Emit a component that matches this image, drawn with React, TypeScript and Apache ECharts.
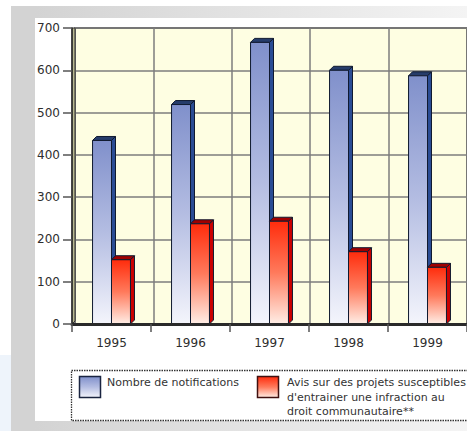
import React, { useEffect, useRef } from 'react';
import * as echarts from 'echarts';

const years = ['1995', '1996', '1997', '1998', '1999'];
const notifications = [434, 519, 666, 600, 587];
const avis = [152, 237, 243, 171, 134];
const yMin = 0;
const yMax = 700;
const yStep = 100;
const seriesNames = [
  'Nombre de notifications',
  "Avis sur des projets susceptibles\nd'entrainer une infraction au\ndroit communautaire**",
];

const FONT = 'DejaVu Sans';

function grad(stops: [number, string][], horizontal = false) {
  return new echarts.graphic.LinearGradient(0, 0, horizontal ? 1 : 0, horizontal ? 0 : 1,
    stops.map(([offset, color]) => ({ offset, color })));
}

const blueFront = () => grad([[0, '#8090cb'], [0.5, '#b4bde2'], [1, '#f4f5fc']]);
const redFront = () => grad([[0, '#ff2c0c'], [0.5, '#ff7a5c'], [1, '#ffeee6']]);

function makeRender(offsetFactor: number, front: () => any, side: string, top: string) {
  return (params: any, api: any) => {
    const idx = api.value(0);
    const v = api.value(1);
    const p = api.coord([idx, v]);
    const p0 = api.coord([idx, 0]);
    const band = api.size([1, 0])[0];
    const w = band * 0.24;
    const x = p[0] + offsetFactor * w;
    const y = p[1];
    const y0 = p0[1];
    const dx = 4;
    const dy = 4;
    const stroke = '#101a30';
    return {
      type: 'group',
      children: [
        {
          type: 'polygon',
          shape: { points: [[x + w, y], [x + w + dx, y - dy], [x + w + dx, y0 - dy], [x + w, y0]] },
          style: { fill: side, stroke, lineWidth: 1 },
        },
        {
          type: 'polygon',
          shape: { points: [[x, y], [x + dx, y - dy], [x + w + dx, y - dy], [x + w, y]] },
          style: { fill: top, stroke, lineWidth: 1 },
        },
        {
          type: 'rect',
          shape: { x, y, width: w, height: y0 - y },
          style: { fill: front(), stroke, lineWidth: 1 },
        },
      ],
    };
  };
}

export default function App() {
  const ref = useRef<HTMLDivElement>(null);
  useEffect(() => {
    if (!ref.current) return;
    const chart = echarts.init(ref.current, undefined, { renderer: 'svg' });
    const gridLine = { show: true, lineStyle: { color: '#7c7c7c', width: 1.5 } };
    const legendFont = `11px "${FONT}"`;
    chart.setOption({
      animation: false,
      backgroundColor: '#ffffff',
      grid: [
        { left: 72, top: 28, width: 396, height: 296, containLabel: false },
        {
          left: 75, top: 28, width: 396, height: 296, show: true,
          backgroundColor: '#fefee2', borderColor: '#333', borderWidth: 1.5,
        },
      ],
      xAxis: [
        {
          type: 'category', gridIndex: 0, data: years,
          axisLine: { show: true, lineStyle: { color: '#2a2a2a', width: 3 } },
          axisTick: { show: true, length: 8, lineStyle: { color: '#555', width: 1.5 } },
          axisLabel: { fontFamily: FONT, fontSize: 12, color: '#2e2e2e', margin: 13 },
          splitLine: { show: false },
          z: 5,
        },
        {
          type: 'category', gridIndex: 1, data: years,
          axisLine: { show: false }, axisTick: { show: false }, axisLabel: { show: false },
          splitLine: gridLine,
        },
      ],
      yAxis: [
        {
          type: 'value', gridIndex: 0, min: yMin, max: yMax, interval: yStep,
          axisLine: { show: true, lineStyle: { color: '#2a2a2a', width: 1.5 } },
          axisTick: { show: true, length: 9, lineStyle: { color: '#555', width: 1.5 } },
          axisLabel: { fontFamily: FONT, fontSize: 12, color: '#2e2e2e', margin: 12 },
          splitLine: { show: false },
          z: 5,
        },
        {
          type: 'value', gridIndex: 1, min: yMin, max: yMax, interval: yStep,
          axisLine: { show: false }, axisTick: { show: false }, axisLabel: { show: false },
          splitLine: gridLine,
        },
      ],
      graphic: [
        {
          type: 'rect', z: -11, silent: true,
          shape: { x: 0, y: 355, width: 11, height: 76 },
          style: { fill: '#eef4fb' },
        },
        {
          type: 'rect', z: -10, silent: true,
          shape: { x: 11, y: 6, width: 24, height: 425 },
          style: { fill: '#d3d3d3' },
        },
        {
          type: 'rect', z: -10, silent: true,
          shape: { x: 35, y: 6, width: 432, height: 12 },
          style: { fill: grad([[0, '#d3d3d3'], [1, '#f4f4f4']], true) },
        },
        {
          type: 'rect', z: -10, silent: true,
          shape: { x: 35, y: 421, width: 432, height: 10 },
          style: { fill: grad([[0, '#d3d3d3'], [1, '#f4f4f4']], true) },
        },
        {
          type: 'polygon', z: 3, silent: true,
          shape: { points: [[72, 28], [75, 28], [75, 321], [72, 324]] },
          style: { fill: '#b8b890', stroke: '#333', lineWidth: 1 },
        },
        {
          type: 'rect', z: 3, silent: true,
          shape: { x: 71.5, y: 370.5, width: 410, height: 50 },
          style: { fill: 'transparent', stroke: '#333', lineWidth: 1.3, lineDash: [1.5, 1] },
        },
        {
          type: 'rect', z: 4, silent: true,
          shape: { x: 79.5, y: 376.5, width: 21, height: 21 },
          style: { fill: blueFront(), stroke: '#1a2440', lineWidth: 1.5 },
        },
        {
          type: 'text', z: 4, silent: true,
          style: {
            text: seriesNames[0], x: 107, y: 375.5, font: legendFont, fill: '#333',
            verticalAlign: 'top', lineHeight: 14.5,
          },
        },
        {
          type: 'rect', z: 4, silent: true,
          shape: { x: 257.5, y: 376.5, width: 21, height: 21 },
          style: { fill: redFront(), stroke: '#401010', lineWidth: 1.5 },
        },
        {
          type: 'text', z: 4, silent: true,
          style: {
            text: seriesNames[1], x: 287, y: 375.5, font: legendFont, fill: '#333',
            verticalAlign: 'top', lineHeight: 14.5,
          },
        },
      ],
      series: [
        {
          type: 'custom', name: seriesNames[0], xAxisIndex: 0, yAxisIndex: 0,
          data: years.map((_, i) => [i, notifications[i]]),
          encode: { x: 0, y: 1 },
          itemStyle: { color: '#95a2d6' },
          renderItem: makeRender(-1, blueFront, '#2a4c94', '#263c6a'),
          z: 4,
        },
        {
          type: 'custom', name: seriesNames[1], xAxisIndex: 0, yAxisIndex: 0,
          data: years.map((_, i) => [i, avis[i]]),
          encode: { x: 0, y: 1 },
          itemStyle: { color: '#ff5a3a' },
          renderItem: makeRender(0, redFront, '#cc0000', '#a00000'),
          z: 4,
        },
      ],
    });
    return () => chart.dispose();
  }, []);
  return (
    <div
      ref={ref}
      style={{ position: 'fixed', left: 0, top: 0, width: 467, height: 431 }}
    />
  );
}
